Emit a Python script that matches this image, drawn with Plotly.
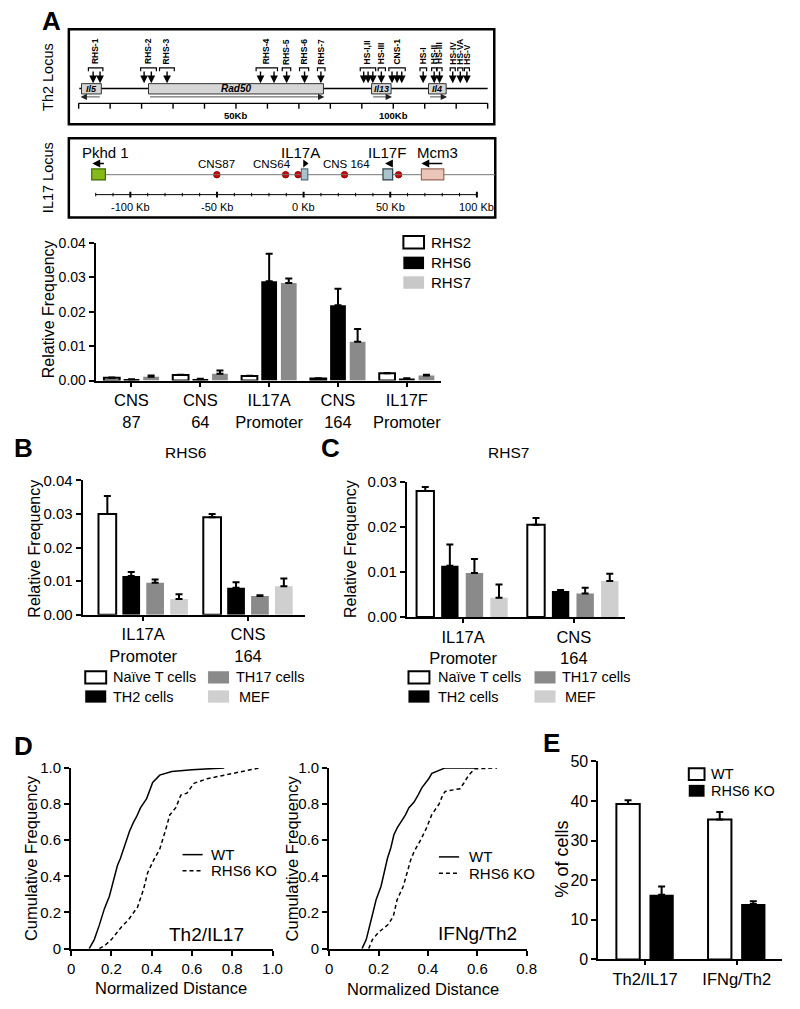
import plotly.graph_objects as go

W, H = 800, 1009
FONT = "Liberation Sans, Arial, Helvetica, sans-serif"


def PX(x):
    return x / W


def PY(y):
    return 1 - y / H


# ======================= DATA =======================
# --- Panel A: Th2 locus map (positions in kb) ---
th2_genes = ["Il5", "Rad50", "Il13", "Il4"]
th2_gene_start = [0.9, 22.2, 93.1, 111.2]
th2_gene_end = [7.2, 77.8, 99.3, 116.8]
th2_gene_strand = [-1, 1, 1, 1]
th2_sites = ["RHS-1", "RHS-2", "RHS-3", "RHS-4", "RHS-5", "RHS-6", "RHS-7",
             "HS-I,II", "HS-III", "CNS-1", "HS-I", "HS-II", "HS-III", "HS-IV", "HS-VA", "HS-V"]
th2_site_arrows = [[4.6, 6.8], [20.8, 23.1], [28.1], [57.8, 62.1], [66.1], [71.8], [77.0],
                   [90.6, 92.0, 93.5], [96.2], [99.6, 101.2, 102.7], [109.5], [113.0], [114.7],
                   [118.9], [121.3], [123.4]]
th2_site_lo = [3.1, 19.7, 25.7, 56.4, 64.7, 70.2, 75.9, 89.5, 95.2, 98.6, 108.5, 112.2, 113.9, 118.1, 120.5, 122.6]
th2_site_hi = [7.7, 24.7, 30.4, 63.2, 67.4, 73.1, 78.3, 94.4, 97.5, 103.8, 110.6, 113.8, 115.5, 119.7, 122.1, 124.2]
th2_scale_ticks = [0, 10, 20, 30, 40, 50, 60, 70, 80, 90, 100, 110, 120, 130]
th2_scale_labels = ["", "", "", "", "", "50Kb", "", "", "", "", "100Kb", "", "", ""]

# --- Panel A: IL17 locus map (kb) ---
il17_genes = ["Pkhd 1", "IL17A", "IL17F", "Mcm3"]
il17_gene_start = [-122.3, -1.3, 45.8, 68.0]
il17_gene_end = [-114.4, 2.4, 51.4, 80.9]
il17_gene_label_kb = [-114.1, -1.6, 48.4, 77.5]
il17_cns_kb = [-50.1, -10.4, -3.2, 23.6, 48.6, 54.8]
il17_cns_names = ["CNS87", "CNS64", "CNS 164"]
il17_cns_name_kb = [-50.1, -18.0, 24.8]
il17_scale_ticks = [-120, -110, -100, -90, -80, -70, -60, -50, -40, -30, -20, -10, 0,
                    10, 20, 30, 40, 50, 60, 70, 80, 90, 100]
il17_scale_major = [-100, -50, 0, 50, 100]
il17_scale_labels = ["-100 Kb", "-50 Kb", "0 Kb", "50 Kb", "100 Kb"]

# --- Panel A: bar chart ---
a_categories = ["CNS<br>87", "CNS<br>64", "IL17A<br>Promoter", "CNS<br>164", "IL17F<br>Promoter"]
a_series = ["RHS2", "RHS6", "RHS7"]
a_rhs2 = [0.0008, 0.0016, 0.0013, 0.0006, 0.0021]
a_rhs2_err = [0.0001, 0.0001, 0.0001, 0.0001, 0.0001]
a_rhs6 = [0.0003, 0.0004, 0.0289, 0.0219, 0.0006]
a_rhs6_err = [0.0001, 0.0001, 0.0080, 0.0048, 0.0001]
a_rhs7 = [0.0011, 0.0020, 0.0284, 0.0113, 0.0015]
a_rhs7_err = [0.0004, 0.0009, 0.0013, 0.0037, 0.0002]
a_yticks = [0.00, 0.01, 0.02, 0.03, 0.04]

# --- Panels B and C ---
bc_categories = ["IL17A<br>Promoter", "CNS<br>164"]
bc_series = ["Naïve T cells", "TH2 cells", "TH17 cells", "MEF"]
b_naive = [0.0300, 0.0290]
b_naive_err = [0.0054, 0.0010]
b_th2 = [0.0115, 0.0080]
b_th2_err = [0.0012, 0.0017]
b_th17 = [0.0095, 0.0056]
b_th17_err = [0.0010, 0.0002]
b_mef = [0.0047, 0.0085]
b_mef_err = [0.0014, 0.0023]
b_yticks = [0.00, 0.01, 0.02, 0.03, 0.04]

c_naive = [0.0280, 0.0205]
c_naive_err = [0.0009, 0.0015]
c_th2 = [0.0114, 0.0058]
c_th2_err = [0.0047, 0.0002]
c_th17 = [0.0098, 0.0052]
c_th17_err = [0.0031, 0.0013]
c_mef = [0.0043, 0.0080]
c_mef_err = [0.0029, 0.0016]
c_yticks = [0.00, 0.01, 0.02, 0.03]

# --- Panel D: cumulative distributions ---
d1_wt_x = [0.09, 0.115, 0.14, 0.165, 0.19, 0.21, 0.23, 0.245, 0.27, 0.29, 0.31, 0.325,
           0.345, 0.375, 0.405, 0.44, 0.50, 0.60, 0.76]
d1_wt_y = [0.0, 0.05, 0.13, 0.22, 0.29, 0.37, 0.46, 0.50, 0.58, 0.65, 0.70, 0.73,
           0.78, 0.83, 0.92, 0.96, 0.98, 0.99, 1.0]
d1_ko_x = [0.14, 0.17, 0.20, 0.25, 0.285, 0.33, 0.36, 0.38, 0.41, 0.44, 0.47, 0.49,
           0.52, 0.545, 0.575, 0.61, 0.675, 0.74, 0.80, 0.87, 0.935]
d1_ko_y = [0.0, 0.02, 0.05, 0.12, 0.16, 0.23, 0.33, 0.42, 0.49, 0.55, 0.66, 0.74,
           0.78, 0.85, 0.86, 0.915, 0.94, 0.955, 0.965, 0.985, 1.0]
d2_wt_x = [0.133, 0.15, 0.17, 0.19, 0.21, 0.222, 0.236, 0.25, 0.262, 0.276, 0.29, 0.309,
           0.323, 0.343, 0.36, 0.375, 0.403, 0.416, 0.47, 0.60]
d2_wt_y = [0.0, 0.05, 0.16, 0.27, 0.345, 0.42, 0.50, 0.56, 0.63, 0.67, 0.70, 0.74,
           0.78, 0.81, 0.85, 0.89, 0.94, 0.97, 1.0, 1.0]
d2_ko_x = [0.16, 0.175, 0.20, 0.24, 0.26, 0.275, 0.30, 0.315, 0.33, 0.345, 0.37, 0.395,
           0.415, 0.445, 0.46, 0.47, 0.53, 0.545, 0.565, 0.59, 0.68]
d2_ko_y = [0.0, 0.05, 0.09, 0.135, 0.18, 0.27, 0.345, 0.42, 0.49, 0.54, 0.60, 0.67,
           0.74, 0.80, 0.85, 0.87, 0.885, 0.915, 0.96, 0.995, 1.0]
d1_xticks = [0, 0.2, 0.4, 0.6, 0.8, 1.0]
d1_xlabels = ["0", "0.2", "0.4", "0.6", "0.8", "1.0"]
d2_xticks = [0, 0.2, 0.4, 0.6, 0.8]
d2_xlabels = ["0", "0.2", "0.4", "0.6", "0.8"]
d_yticks = [0, 0.2, 0.4, 0.6, 0.8, 1.0]
d_ylabels = ["0", "0.2", "0.4", "0.6", "0.8", "1.0"]

# --- Panel E ---
e_categories = ["Th2/IL17", "IFNg/Th2"]
e_series = ["WT", "RHS6 KO"]
e_wt = [39.2, 35.3]
e_wt_err = [1.0, 1.9]
e_ko = [16.3, 14.0]
e_ko_err = [2.1, 0.7]
e_yticks = [0, 10, 20, 30, 40, 50]

# ======================= FIGURE =======================
fig = go.Figure()
shapes = []
ann = []


def ptext(x, y, s, size, **kw):
    d = dict(x=PX(x), y=PY(y), xref="paper", yref="paper", text=s, showarrow=False,
             xanchor="center", yanchor="middle",
             font=dict(family=FONT, size=size, color="black"))
    d.update(kw)
    ann.append(d)


def dtext(xref, yref, x, y, s, size, **kw):
    d = dict(x=x, y=y, xref=xref, yref=yref, text=s, showarrow=False,
             xanchor="center", yanchor="middle",
             font=dict(family=FONT, size=size, color="black"))
    d.update(kw)
    ann.append(d)


def arrow(xref, yref, x0, y0, x1, y1, width=1.2, size=1.2, color="black"):
    ann.append(dict(x=x1, y=y1, ax=x0, ay=y0, xref=xref, yref=yref, axref=xref, ayref=yref,
                    showarrow=True, text="", arrowhead=2, arrowsize=size, arrowwidth=width,
                    arrowcolor=color, standoff=0, startstandoff=0))


def prect(x0, y0, x1, y1, fill, lc="black", lw=1.5):
    shapes.append(dict(type="rect", xref="paper", yref="paper", x0=PX(x0), x1=PX(x1),
                       y0=PY(y1), y1=PY(y0), fillcolor=fill, line=dict(color=lc, width=lw)))


def pline(x0, y0, x1, y1, lw=1.5, dash="solid"):
    shapes.append(dict(type="line", xref="paper", yref="paper", x0=PX(x0), x1=PX(x1),
                       y0=PY(y0), y1=PY(y1), line=dict(color="black", width=lw, dash=dash)))


# ---------- Panel letters ----------
for letter, lx, ly in [("A", 48, 12), ("B", 20, 447), ("C", 332, 447), ("D", 20, 750), ("E", 557, 747)]:
    ptext(lx, ly, "<b>%s</b>" % letter, 26)

# ---------- Th2 locus diagram (axis x7/y7) ----------
XA, YA = "x7", "y7"
prect(66, 20.7, 499, 117.3, "rgba(0,0,0,0)", lw=2.5)
ptext(45, 69, "Th2 Locus", 14.5, textangle=-90)
shapes.append(dict(type="line", xref=XA, yref=YA, x0=0.2, x1=130, y0=81, y1=81,
                   line=dict(color="black", width=1.5)))
for name, s, e, strand in zip(th2_genes, th2_gene_start, th2_gene_end, th2_gene_strand):
    shapes.append(dict(type="rect", xref=XA, yref=YA, x0=s, x1=e, y0=76, y1=86.5,
                       fillcolor="#d6d6d6", line=dict(color="#333333", width=1)))
    dtext(XA, YA, (s + e) / 2, 81.4, "<b><i>%s</i></b>" % name, 10 if name == "Rad50" else 9)
    if strand < 0:
        arrow(XA, YA, e, 89.5, s - 0.3, 89.5, width=0.8, size=1.6, color="#222222")
    else:
        arrow(XA, YA, s, 89.5, e + 0.3, 89.5, width=0.8, size=1.6, color="#222222")
for label, arrs, lo, hi in zip(th2_sites, th2_site_arrows, th2_site_lo, th2_site_hi):
    shapes.append(dict(type="path", xref=XA, yref=YA,
                       path="M %f,63.5 L %f,60 L %f,60 L %f,63.5" % (lo, lo, hi, hi),
                       line=dict(color="black", width=1.2)))
    for kb in arrs:
        arrow(XA, YA, kb, 62, kb, 75.5, width=1.4, size=1.1)
    dtext(XA, YA, (lo + hi) / 2, 58.5, "<b>%s</b>" % label, 8.5, textangle=-90,
          yanchor="bottom", xanchor="center")
shapes.append(dict(type="line", xref=XA, yref=YA, x0=0, x1=130, y0=96, y1=96,
                   line=dict(color="black", width=1.2)))
for t, lab in zip(th2_scale_ticks, th2_scale_labels):
    shapes.append(dict(type="line", xref=XA, yref=YA, x0=t, x1=t, y0=96, y1=101.5,
                       line=dict(color="black", width=1.4)))
    if lab:
        dtext(XA, YA, t, 108.3, "<b>%s</b>" % lab, 9.5)

# ---------- IL17 locus diagram (axis x8/y8) ----------
XB, YB = "x8", "y8"
prect(66, 131.7, 500, 212.3, "rgba(0,0,0,0)", lw=2.5)
ptext(45, 172, "IL17 Locus", 14.5, textangle=-90)
shapes.append(dict(type="line", xref=XB, yref=YB, x0=-121.9, x1=110.5, y0=168.7, y1=168.7,
                   line=dict(color="#777777", width=1)))
gene_fill = ["#86b817", "#a9c3cc", "#a9c3cc", "#ebc6b8"]
gene_line = ["#3d6b00", "#5a6e76", "#2f3f46", "#9a6a5a"]
for i, (name, s, e, lk) in enumerate(zip(il17_genes, il17_gene_start, il17_gene_end, il17_gene_label_kb)):
    shapes.append(dict(type="rect", xref=XB, yref=YB, x0=s, x1=e, y0=162.8, y1=174.0,
                       fillcolor=gene_fill[i], line=dict(color=gene_line[i], width=1.2)))
    dtext(XB, YB, lk, 146.5, name, 15)
arrow(XB, YB, -114.4, 157.3, -121.9, 157.3, width=1.3, size=1.2)
arrow(XB, YB, 50.6, 157.3, 47.0, 157.3, width=1.3, size=1.2)
arrow(XB, YB, 80.9, 157.3, 68.0, 157.3, width=1.3, size=1.2)
fig.add_trace(go.Scatter(x=[0.8], y=[157.3], xaxis=XB, yaxis=YB, mode="markers",
                         marker=dict(symbol="triangle-right", size=7, color="black"),
                         hoverinfo="skip", showlegend=False))
fig.add_trace(go.Scatter(x=il17_cns_kb, y=[168.7] * len(il17_cns_kb), xaxis=XB, yaxis=YB,
                         mode="markers", marker=dict(size=6.5, color="#d40000",
                                                     line=dict(color="#700000", width=0.8)),
                         hoverinfo="skip", showlegend=False))
for name, k in zip(il17_cns_names, il17_cns_name_kb):
    dtext(XB, YB, k, 158.3, name, 11.5)
shapes.append(dict(type="line", xref=XB, yref=YB, x0=-120, x1=100, y0=189, y1=189,
                   line=dict(color="black", width=1)))
for t in il17_scale_ticks:
    major = t in il17_scale_major
    shapes.append(dict(type="line", xref=XB, yref=YB, x0=t, x1=t,
                       y0=186 if major else 187.2, y1=192 if major else 190.8,
                       line=dict(color="black", width=2 if major else 1)))
for t, lab in zip(il17_scale_major, il17_scale_labels):
    dtext(XB, YB, t, 201.5, lab, 11)


# ---------- Bar chart helper ----------
def bars(xa, ya, cats, vals, errs, offset, width, fill, lc="black", lw=0):
    fig.add_trace(go.Bar(x=cats, y=vals, xaxis=xa, yaxis=ya, offset=offset, width=width,
                         marker=dict(color=fill, line=dict(color=lc, width=lw)),
                         error_y=dict(type="data", array=errs, arrayminus=[0] * len(errs),
                                      symmetric=False, color="black", thickness=2, width=3.5),
                         hoverinfo="skip", showlegend=False))


WHITE, BLACK, MID, LIGHT = "white", "black", "#8a8a8a", "#cfcfcf"

# Panel A bars (x / y)
bars("x", "y", a_categories, a_rhs2, a_rhs2_err, -0.40, 0.229, WHITE, lw=2)
bars("x", "y", a_categories, a_rhs6, a_rhs6_err, -0.114, 0.229, BLACK)
bars("x", "y", a_categories, a_rhs7, a_rhs7_err, 0.171, 0.229, MID)

# Panel B bars (x2 / y2)
for vals, errs, off, fill, lw in [(b_naive, b_naive_err, -0.4265, WHITE, 2),
                                  (b_th2, b_th2_err, -0.1985, BLACK, 0),
                                  (b_th17, b_th17_err, 0.0295, MID, 0),
                                  (b_mef, b_mef_err, 0.2575, LIGHT, 0)]:
    bars("x2", "y2", bc_categories, vals, errs, off, 0.169, fill, lw=lw)

# Panel C bars (x3 / y3)
for vals, errs, off, fill, lw in [(c_naive, c_naive_err, -0.42, WHITE, 2),
                                  (c_th2, c_th2_err, -0.198, BLACK, 0),
                                  (c_th17, c_th17_err, 0.024, MID, 0),
                                  (c_mef, c_mef_err, 0.246, LIGHT, 0)]:
    bars("x3", "y3", bc_categories, vals, errs, off, 0.157, fill, lw=lw)

# Panel E bars (x6 / y6)
bars("x6", "y6", e_categories, e_wt, e_wt_err, -0.313, 0.255, WHITE, lw=2)
bars("x6", "y6", e_categories, e_ko, e_ko_err, 0.048, 0.265, BLACK)

# Panel D lines
fig.add_trace(go.Scatter(x=d1_wt_x, y=d1_wt_y, xaxis="x4", yaxis="y4", mode="lines",
                         line=dict(color="black", width=1.5), hoverinfo="skip", showlegend=False))
fig.add_trace(go.Scatter(x=d1_ko_x, y=d1_ko_y, xaxis="x4", yaxis="y4", mode="lines",
                         line=dict(color="black", width=1.5, dash="4px,3px"), hoverinfo="skip", showlegend=False))
fig.add_trace(go.Scatter(x=d2_wt_x, y=d2_wt_y, xaxis="x5", yaxis="y5", mode="lines",
                         line=dict(color="black", width=1.5), hoverinfo="skip", showlegend=False))
fig.add_trace(go.Scatter(x=d2_ko_x, y=d2_ko_y, xaxis="x5", yaxis="y5", mode="lines",
                         line=dict(color="black", width=1.5, dash="4px,3px"), hoverinfo="skip", showlegend=False))

# ---------- Legends / titles ----------
# A legend
for (lab, fill), yy in zip(zip(a_series, [WHITE, BLACK, "#c8c8c8"]), [237.5, 258.5, 278.5]):
    prect(406.5, yy - 6.3, 427.5, yy + 6.3, fill, lc="black" if fill == WHITE else fill,
          lw=2 if fill == WHITE else 0.1)
    ptext(433, yy, lab, 15, xanchor="left")
ptext(45.5, 306, "Relative Frequency", 16, textangle=-90)

# B / C legends and titles
for x_sw1, x_tx1, x_sw2, x_tx2, x_mef in [(82.7, 109.3, 207.7, 234, 237.3), (411.7, 439.3, 540, 566, 569.3)]:
    rows = [(x_sw1, x_tx1, 680.5, WHITE, bc_series[0]), (x_sw2, x_tx2, 680.5, MID, bc_series[2]),
            (x_sw1, x_tx1, 700, BLACK, bc_series[1]), (x_sw2, x_mef, 700, LIGHT, bc_series[3])]
    for xs, xt, yy, fill, lab in rows:
        prect(xs, yy - 6.2, xs + 21.3, yy + 6.2, fill, lc="black" if fill == WHITE else fill,
              lw=2 if fill == WHITE else 0.1)
        ptext(xt, yy, lab, 14.5, xanchor="left")
ptext(185, 452, "RHS6", 15.5)
ptext(513, 452, "RHS7", 15.5)
ptext(31, 549, "Relative Frequency", 16, textangle=-90)
ptext(352, 550, "Relative Frequency", 16, textangle=-90)

# D legends, titles
for x0, ywt, yko, xt in [(181.7, 861, 877.3, 209), (442.7, 863.3, 880, 471.7)]:
    pline(x0, ywt, x0 + 20.5, ywt, lw=1.5)
    pline(x0, yko, x0 + 20.5, yko, lw=1.5, dash="4px,3px")
    ptext(xt, ywt, "WT", 15, xanchor="left")
    ptext(xt, yko, "RHS6 KO", 15, xanchor="left")
ptext(205.7, 942.7, "Th2/IL17", 19)
ptext(481.7, 941.7, "IFNg/Th2", 19)
ptext(27, 865, "Cumulative Frequency", 16.5, textangle=-90)
ptext(293, 865, "Cumulative Frequency", 16.5, textangle=-90)
ptext(170, 996.7, "Normalized Distance", 16.5)
ptext(426.7, 997.3, "Normalized Distance", 16.5)

# E legend, title
for yy, fill, lab in [(779, WHITE, e_series[0]), (796, BLACK, e_series[1])]:
    prect(697, yy - 6, 713, yy + 6, fill, lc="black", lw=2 if fill == WHITE else 0.1)
    ptext(718, yy, lab, 14.5, xanchor="left")
ptext(567, 866, "% of cells", 18, textangle=-90)


# ---------- Axes ----------
def base_axis(size):
    return dict(showgrid=False, zeroline=False, showline=True, linecolor="black", linewidth=2,
                ticks="outside", ticklen=5, tickwidth=1.5, tickcolor="black", fixedrange=True,
                tickfont=dict(family=FONT, size=size, color="black"))


def xcat(x0, x1, rng, anchor, size):
    d = base_axis(size)
    d.update(domain=[PX(x0), PX(x1)], range=rng, anchor=anchor, type="category", ticklen=4)
    return d


def ynum(top, bottom, rng, anchor, size, tickvals, ticktext=None, fmt=None):
    d = base_axis(size)
    d.update(domain=[PY(bottom), PY(top)], range=rng, anchor=anchor, tickvals=tickvals)
    if ticktext is not None:
        d["ticktext"] = ticktext
    if fmt:
        d["tickformat"] = fmt
    return d


def xnum(x0, x1, rng, anchor, size, tickvals, ticktext):
    d = base_axis(size)
    d.update(domain=[PX(x0), PX(x1)], range=rng, anchor=anchor, tickvals=tickvals, ticktext=ticktext)
    return d


def hidden(dom, rng, anchor):
    return dict(domain=dom, range=rng, anchor=anchor, visible=False, showgrid=False,
                zeroline=False, fixedrange=True)


layout = dict(
    width=W, height=H, margin=dict(l=0, r=0, t=0, b=0, pad=0), autosize=False,
    paper_bgcolor="white", plot_bgcolor="rgba(0,0,0,0)", showlegend=False, barmode="overlay",
    font=dict(family=FONT, color="black"),
    xaxis=xcat(93.3, 445, [-0.52, 4.5], "y", 16.5),
    yaxis=ynum(238.3, 378.3, [0, 0.04], "x", 14, a_yticks, fmt=".2f"),
    xaxis2=xcat(80, 306.7, [-0.578, 1.547], "y2", 16.5),
    yaxis2=ynum(480, 616.7, [0, 0.04], "x2", 15, b_yticks, fmt=".2f"),
    xaxis3=xcat(410, 631.7, [-0.508, 1.459], "y3", 16.5),
    yaxis3=ynum(481.7, 619, [0, 0.03], "x3", 15, c_yticks, fmt=".2f"),
    xaxis4=xnum(68.3, 273.3, [0, 1.0], "y4", 15, d1_xticks, d1_xlabels),
    yaxis4=ynum(772.7, 956.7, [0, 1.0], "x4", 15, d_yticks, d_ylabels),
    xaxis5=xnum(331, 532, [0, 0.8], "y5", 15, d2_xticks, d2_xlabels),
    yaxis5=ynum(772.7, 956.7, [0, 1.0], "x5", 15, d_yticks, d_ylabels),
    xaxis6=xcat(605, 791.7, [-0.509, 1.492], "y6", 16.5),
    yaxis6=ynum(766, 967.7, [0, 50], "x6", 16, e_yticks),
    xaxis7=hidden([PX(66), PX(499)], [-3.12, 132.1], "y7"),
    yaxis7=hidden([PY(117.3), PY(20.7)], [117.3, 20.7], "x7"),
    xaxis8=hidden([PX(66), PX(500)], [-135.5, 110.6], "y8"),
    yaxis8=hidden([PY(212.3), PY(131.7)], [212.3, 131.7], "x8"),
    shapes=shapes,
    annotations=ann,
)
fig.update_layout(**layout)

fig.write_html("out.html", config=dict(displayModeBar=False),
               post_script="document.body.style.margin='0';document.body.style.overflow='hidden';")
